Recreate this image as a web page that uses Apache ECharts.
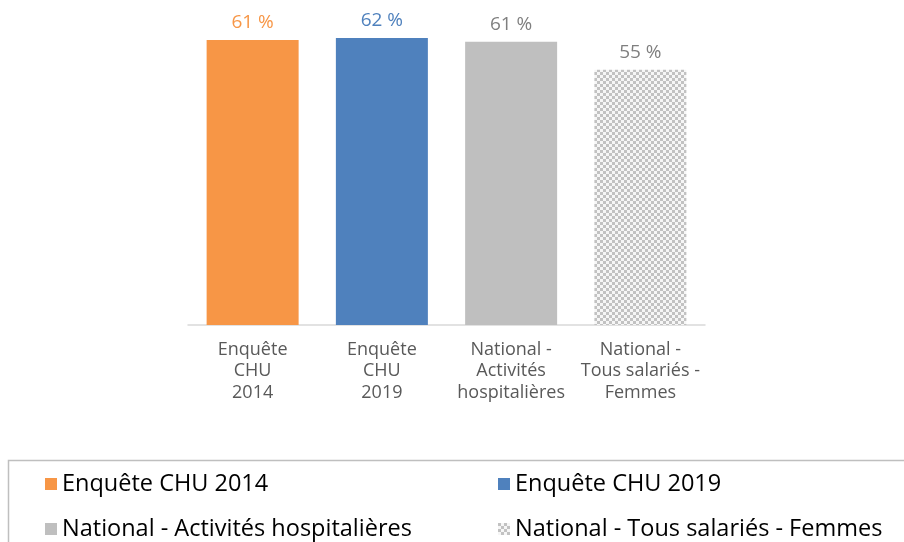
<!DOCTYPE html>
<html>
<head>
<meta charset="utf-8">
<script src="https://cdn.jsdelivr.net/npm/echarts@6/dist/echarts.min.js"></script>
<style>
  html, body { margin: 0; padding: 0; background: #fff; }
  #chart { width: 904px; height: 542px; }
</style>
</head>
<body>
<div id="chart"></div>
<script>
// données
let categories = ['Enquête\nCHU\n2014', 'Enquête\nCHU\n2019', 'National -\nActivités\nhospitalières', 'National -\nTous salariés -\nFemmes']
let seriesNames = ['Enquête CHU 2014', 'Enquête CHU 2019', 'National - Activités hospitalières', 'National - Tous salariés - Femmes']
let values = [61.4, 61.8, 61.0, 55.0]

let font = 'Open Sans'

// motif damier pour la dernière barre
function makeChecker() {
  let c = document.createElement('canvas')
  c.width = 6
  c.height = 6
  let ctx = c.getContext('2d')
  ctx.fillStyle = '#f6f6f6'
  ctx.fillRect(0, 0, 6, 6)
  ctx.fillStyle = '#c2c2c2'
  ctx.fillRect(0, 0, 3, 3)
  ctx.fillRect(3, 3, 3, 3)
  return c
}

let colors = ['#F79646', '#4F81BD', '#BFBFBF', { image: makeChecker(), repeat: 'repeat' }]
let labelColors = ['#F79646', '#4F81BD', '#7F7F7F', '#7F7F7F']

var chart = echarts.init(document.getElementById('chart'))

let series = seriesNames.map((name, i) => {
  return {
    name: name,
    type: 'bar',
    barWidth: 92,
    barGap: '-100%',
    data: values.map((v, j) => j === i ? v : '-'),
    itemStyle: { color: colors[i] },
    label: {
      show: true,
      position: 'top',
      distance: 8,
      fontFamily: font,
      fontSize: 19,
      color: labelColors[i],
      formatter: p => Math.round(p.value) + ' %'
    }
  }
})

let legendStyle = {
  orient: 'vertical',
  top: 467,
  height: 150,
  icon: 'rect',
  itemWidth: 12,
  itemHeight: 12,
  itemGap: 21,
  textStyle: { fontFamily: font, fontSize: 23.5, color: '#000' }
}

chart.setOption({
  animation: false,
  grid: { left: 188, right: 199, top: -1, bottom: 217 },
  xAxis: {
    type: 'category',
    data: categories,
    axisLine: { lineStyle: { color: '#D9D9D9', width: 1.5 } },
    axisTick: { show: false },
    axisLabel: {
      interval: 0,
      margin: 14,
      fontFamily: font,
      fontSize: 18,
      lineHeight: 21.5,
      color: '#595959'
    }
  },
  yAxis: {
    type: 'value',
    min: 0,
    max: 70,
    show: false
  },
  legend: [
    Object.assign({ data: [seriesNames[0], seriesNames[2]], left: 40 }, legendStyle),
    Object.assign({ data: [seriesNames[1], seriesNames[3]], left: 493 }, legendStyle)
  ],
  graphic: [
    {
      type: 'rect',
      shape: { x: 8.5, y: 460.5, width: 920, height: 120 },
      style: { fill: 'none', stroke: '#BFBFBF', lineWidth: 1.5 },
      silent: true
    }
  ],
  series: series
})
</script>
</body>
</html>
